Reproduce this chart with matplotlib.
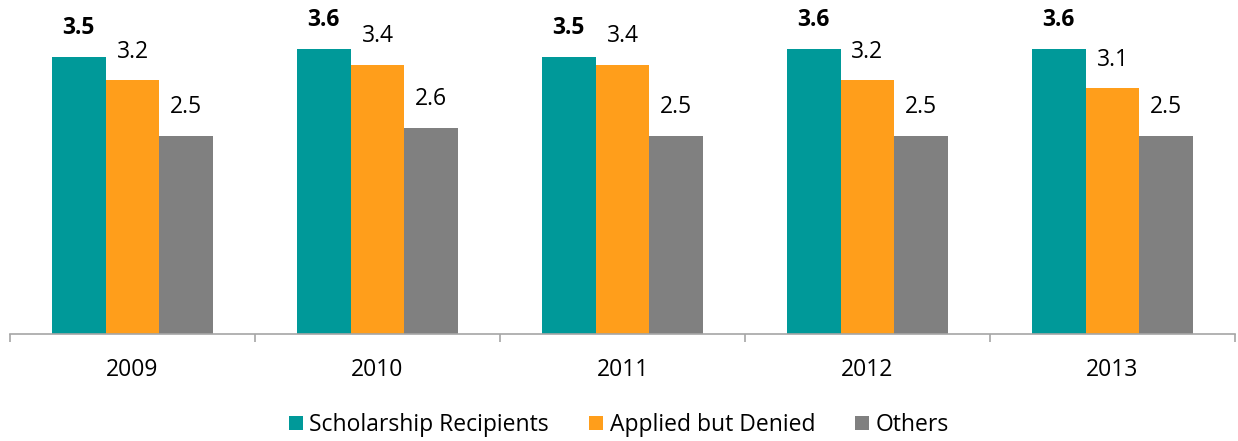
import matplotlib.pyplot as plt
import numpy as np

years = ["2009", "2010", "2011", "2012", "2013"]
recipients = [3.5, 3.6, 3.5, 3.6, 3.6]
denied = [3.2, 3.4, 3.4, 3.2, 3.1]
others = [2.5, 2.6, 2.5, 2.5, 2.5]

series = [
    ("Scholarship Recipients", recipients, "#009999", "bold"),
    ("Applied but Denied", denied, "#FF9E1B", "normal"),
    ("Others", others, "#808080", "normal"),
]

plt.rcParams['font.family'] = ['Open Sans', 'DejaVu Sans']

fig = plt.figure(figsize=(12.38, 4.41), dpi=100)
ax = fig.add_axes([10 / 1238, 107 / 441, 1225 / 1238, 317 / 441])

x = np.arange(len(years))
w = 0.22
for i, (name, vals, color, weight) in enumerate(series):
    pos = x + (i - 1) * w
    ax.bar(pos, vals, w, color=color, label=name)
    for xp, v in zip(pos, vals):
        ax.annotate(f"{v:.1f}", (xp, v), xytext=(0, 12), textcoords="offset points",
                    ha="center", va="bottom", fontsize=16.5, fontweight=weight)

ax.set_xlim(-0.5, len(years) - 0.5)
ax.set_ylim(0, 4)
ax.set_yticks([])
for s in ["top", "right", "left"]:
    ax.spines[s].set_visible(False)
ax.spines["bottom"].set_color("#A6A6A6")
ax.spines["bottom"].set_linewidth(1.2)

ax.set_xticks(np.arange(len(years) + 1) - 0.5)
ax.set_xticklabels([])
ax.tick_params(axis="x", length=6, color="#A6A6A6", width=1.2)
ax.set_xticks(x, minor=True)
ax.set_xticklabels(years, minor=True, fontsize=16.5)
ax.tick_params(axis="x", which="minor", length=0, pad=17)

fig.legend(loc="center", bbox_to_anchor=(0.5, 1 - 425 / 441), ncol=3, frameon=False,
           fontsize=16.5, handlelength=0.6, handleheight=0.6, handletextpad=0.3,
           columnspacing=1.75)

fig.savefig("out.png", dpi=100)
